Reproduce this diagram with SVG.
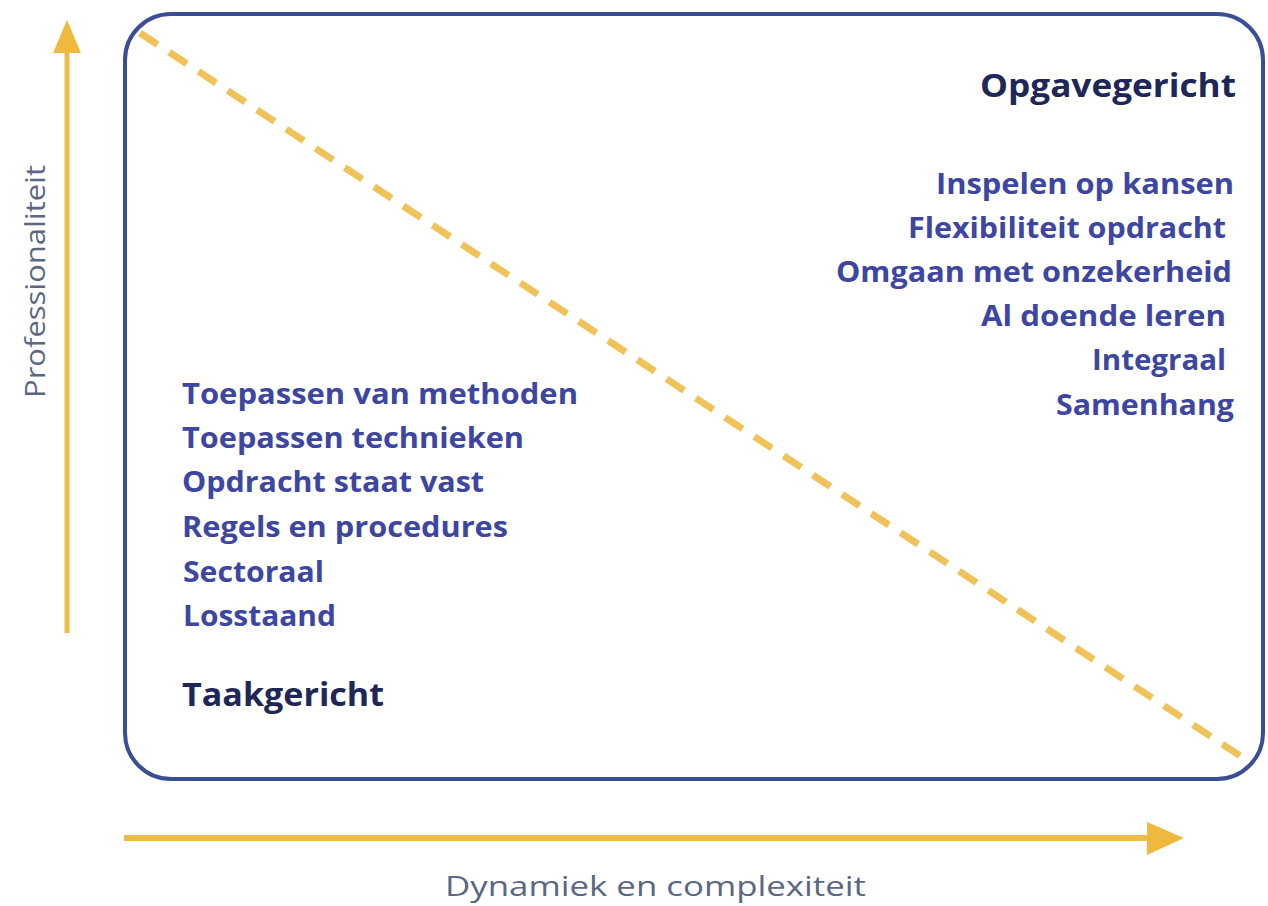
<svg xmlns="http://www.w3.org/2000/svg" width="1268" height="906" viewBox="0 0 1268 906">
<style>
.item{font-family:"Open Sans",Lato,sans-serif;font-weight:700;font-size:28px;fill:#3d46a0}
.head{font-family:"Open Sans",Lato,sans-serif;font-weight:700;font-size:32px;fill:#1e2757}
.axis{font-family:"Open Sans","Noto Sans",sans-serif;font-size:27px;fill:#5b6784}
</style>
<rect width="1268" height="906" fill="#ffffff"/>
<g id="frame">
<rect x="125" y="14" width="1138" height="765" rx="46" ry="46" fill="none" stroke="#3a4e95" stroke-width="4"/>
</g>
<g id="connectors">
<line x1="140" y1="33" x2="1242" y2="757" stroke="#efc35a" stroke-width="7" stroke-dasharray="21 14"/>
<line x1="67" y1="633" x2="67" y2="48" stroke="#efbb48" stroke-width="5"/>
<polygon points="67,20 53,53 81,53" fill="#efb93e"/>
<line x1="124" y1="838" x2="1152" y2="838" stroke="#efbb48" stroke-width="6"/>
<polygon points="1184,838 1147,822 1147,855" fill="#efb93e"/>
</g>
<g id="opgavegericht">
<text class="head" x="980" y="97" textLength="256" lengthAdjust="spacingAndGlyphs">Opgavegericht</text>
<text class="item" x="936" y="194" textLength="298" lengthAdjust="spacingAndGlyphs">Inspelen op kansen</text>
<text class="item" x="908" y="238" textLength="318" lengthAdjust="spacingAndGlyphs">Flexibiliteit opdracht</text>
<text class="item" x="836" y="282" textLength="396" lengthAdjust="spacingAndGlyphs">Omgaan met onzekerheid</text>
<text class="item" x="981" y="326" textLength="245" lengthAdjust="spacingAndGlyphs">Al doende leren</text>
<text class="item" x="1092" y="370" textLength="134" lengthAdjust="spacingAndGlyphs">Integraal</text>
<text class="item" x="1056" y="415" textLength="178" lengthAdjust="spacingAndGlyphs">Samenhang</text>
</g>
<g id="taakgericht">
<text class="item" x="182" y="404" textLength="396" lengthAdjust="spacingAndGlyphs">Toepassen van methoden</text>
<text class="item" x="182" y="448" textLength="342" lengthAdjust="spacingAndGlyphs">Toepassen technieken</text>
<text class="item" x="182" y="492" textLength="302" lengthAdjust="spacingAndGlyphs">Opdracht staat vast</text>
<text class="item" x="182" y="537" textLength="326" lengthAdjust="spacingAndGlyphs">Regels en procedures</text>
<text class="item" x="183" y="582" textLength="141" lengthAdjust="spacingAndGlyphs">Sectoraal</text>
<text class="item" x="183" y="626" textLength="153" lengthAdjust="spacingAndGlyphs">Losstaand</text>
<text class="head" x="182" y="706" textLength="202" lengthAdjust="spacingAndGlyphs">Taakgericht</text>
</g>
<g id="axes-labels">
<text class="axis" transform="translate(45,398) rotate(-90)" textLength="233" lengthAdjust="spacingAndGlyphs">Professionaliteit</text>
<text class="axis" x="445" y="896" textLength="421" lengthAdjust="spacingAndGlyphs">Dynamiek en complexiteit</text>
</g>
</svg>
